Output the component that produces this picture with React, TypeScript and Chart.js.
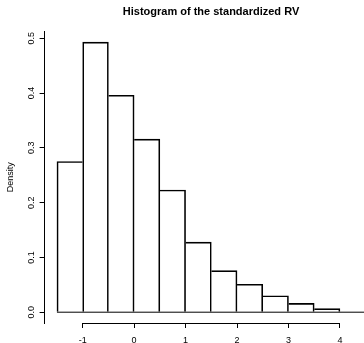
import React, { useEffect, useRef } from "react";
import { Chart, registerables } from "chart.js";

Chart.register(...registerables);

// ---- data ----
const breaks = [-1.5, -1, -0.5, 0, 0.5, 1, 1.5, 2, 2.5, 3, 3.5, 4, 4.5];
const density = [0.275, 0.493, 0.396, 0.316, 0.223, 0.128, 0.076, 0.051, 0.03, 0.016, 0.0066, 0];
const xTicks = [-1, 0, 1, 2, 3, 4];
const yTicks = [0, 0.1, 0.2, 0.3, 0.4, 0.5];
const titleText = "Histogram of the standardized RV";
const yLabel = "Density";

const FONT = "'Liberation Sans', Arial, Helvetica, sans-serif";
const CANVAS_W = 422;
const CANVAS_H = 343;
const PLOT_RIGHT = 378;
const Y_AXIS_W = 44.6;
const X_AXIS_H = 20;

// R-style axis lines: drawn from the first to the last tick, through the chart's scales
const rAxisLines = {
  id: "rAxisLines",
  afterDraw(chart: any) {
    const ctx: CanvasRenderingContext2D = chart.ctx;
    const xs = chart.scales.x;
    const ys = chart.scales.y;
    const area = chart.chartArea;
    ctx.save();
    ctx.setTransform(1, 0, 0, 1, 0, 0);
    ctx.fillStyle = "#000";
    // y axis at the left edge of the plot region (from first to last tick)
    const colX = Math.round(area.left - 0.5);
    const yTop = Math.round(ys.getPixelForValue(yTicks[yTicks.length - 1]) - 0.5);
    const yBot = Math.round(ys.getPixelForValue(yTicks[0]) - 0.5);
    ctx.fillRect(colX, yTop, 1, yBot - yTop + 1);
    // x axis at the bottom edge of the plot region (from first to last tick)
    const rowY = Math.round(area.bottom - 0.5);
    const xA = Math.round(xs.getPixelForValue(xTicks[0]) - 0.5);
    const xB = Math.round(xs.getPixelForValue(xTicks[xTicks.length - 1]) - 0.5);
    ctx.fillRect(xA, rowY, xB - xA + 1, 1);
    ctx.restore();
  },
};

export default function App() {
  const ref = useRef<HTMLCanvasElement | null>(null);

  useEffect(() => {
    if (!ref.current) return;
    const lo = breaks[0];
    const hi = breaks[breaks.length - 1];
    const xPad = (hi - lo) * 0.04;
    const xMin = lo - xPad;
    const xMax = hi + xPad;
    const dMax = Math.max(...density);
    const yMin = -dMax * 0.04;
    const yMax = dMax * 1.04;

    const bars = density.map((d, i) => ({ x: (breaks[i] + breaks[i + 1]) / 2, y: d }));

    const chart = new Chart(ref.current, {
      type: "bar",
      data: {
        datasets: [
          {
            type: "bar",
            data: bars as any,
            backgroundColor: "rgba(255,255,255,0)",
            borderColor: "#000",
            borderSkipped: false,
            borderWidth: (c: any) => {
              const i = c.dataIndex;
              const cur = density[i];
              const prev = density[i - 1];
              const next = density[i + 1];
              const left = prev === undefined || prev < cur ? 1 : 0;
              const right = next === undefined || next <= cur ? 1 : 0;
              return { top: 1, left, bottom: 0, right };
            },
            barPercentage: 1,
            categoryPercentage: 1,
            order: 1,
          } as any,
          {
            type: "line",
            data: [
              { x: lo, y: 0 },
              { x: hi, y: 0 },
            ],
            borderColor: "#000",
            borderWidth: 1,
            pointRadius: 0,
            pointHoverRadius: 0,
            fill: false,
            tension: 0,
            clip: false,
            order: 0,
          } as any,
        ],
      },
      plugins: [rAxisLines],
      options: {
        responsive: false,
        animation: false,
        devicePixelRatio: 1,
        events: [],
        layout: { padding: 0 },
        plugins: {
          legend: { display: false },
          tooltip: { enabled: false },
          title: {
            display: true,
            text: titleText,
            color: "#000",
            font: { family: FONT, size: 11, weight: "bold" },
            padding: { top: 5, bottom: 13.1 },
          },
        },
        scales: {
          x: {
            type: "linear",
            offset: false,
            min: xMin,
            max: xMax,
            afterBuildTicks: (s: any) => {
              s.ticks = xTicks.map((v) => ({ value: v }));
            },
            afterFit: (s: any) => {
              s.height = X_AXIS_H;
            },
            grid: {
              display: true,
              offset: false,
              drawOnChartArea: false,
              drawTicks: true,
              tickLength: 5,
              color: "#000",
              lineWidth: 1,
            },
            border: { display: false },
            ticks: {
              color: "#000",
              font: { family: FONT, size: 9 },
              padding: 7,
              minRotation: 0,
              maxRotation: 0,
              autoSkip: false,
              callback: (v: any) => String(v),
            },
          },
          y: {
            type: "linear",
            position: "left",
            min: yMin,
            max: yMax,
            afterBuildTicks: (s: any) => {
              s.ticks = yTicks.map((v) => ({ value: v }));
            },
            afterFit: (s: any) => {
              s.width = Y_AXIS_W;
            },
            grid: {
              display: true,
              drawOnChartArea: false,
              drawTicks: true,
              tickLength: 5,
              color: "#000",
              lineWidth: 1,
            },
            border: { display: true, color: "#000", width: 1 },
            ticks: {
              color: "#000",
              font: { family: FONT, size: 9 },
              padding: 1.5,
              minRotation: 90,
              maxRotation: 90,
              crossAlign: "center",
              autoSkip: false,
              callback: (v: any) => Number(v).toFixed(1),
            },
            title: {
              display: true,
              text: yLabel,
              color: "#000",
              font: { family: FONT, size: 9 },
              padding: { top: 5.3, bottom: 0 },
            },
          },
          y2: {
            type: "linear",
            position: "right",
            display: true,
            grid: { display: false },
            border: { display: false },
            ticks: { display: false },
            afterFit: (s: any) => {
              s.width = CANVAS_W - PLOT_RIGHT;
            },
          },
        },
      } as any,
    });
    return () => chart.destroy();
  }, []);

  return (
    <div
      style={{
        position: "fixed",
        left: 0,
        top: 0,
        width: 364,
        height: 343,
        overflow: "hidden",
        background: "#fff",
      }}
    >
      <canvas ref={ref} width={CANVAS_W} height={CANVAS_H} style={{ display: "block" }} />
    </div>
  );
}
